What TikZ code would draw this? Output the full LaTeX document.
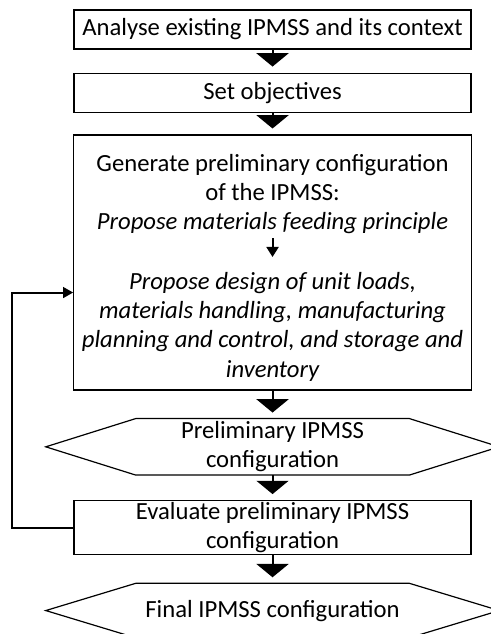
\documentclass[tikz,border=0pt]{standalone}
\usepackage{fontspec}
\setmainfont{Carlito}
\usepackage{tikz}
\usetikzlibrary{arrows.meta, positioning, fit}

\begin{document}
\begin{tikzpicture}[
        node distance=1.0cm,
        >=Latex,
        font=\fontsize{18.5}{22}\selectfont,
        block/.style={
            rectangle,
            draw,
            line width=0.9pt,
            minimum width=297.75pt,
            minimum height=29.25pt,
            inner sep=0pt,
            align=center
        },
        txt/.style={
            inner sep=0pt,
            minimum width=297.75pt,
            align=center
        },
        hexa/.style={
            inner sep=0pt,
            minimum width=204.75pt,
            align=center
        },
        bigarrow/.style={
            line width=1.5pt,
            -{Triangle[width=24pt,length=10pt]},
            shorten >=4.5pt
        },
        smallarrow/.style={
            line width=1.5pt,
            -{Triangle[width=9pt,length=7.5pt]}
        }
    ]

    \useasboundingbox (0,0) rectangle (367.5pt,-475.5pt);

    % Nodes
    \node[block] (analyse) at (204.4pt,-22.1pt) {Analyse existing IPMSS and its context};
    \node[block, below=17.25pt of analyse] (objectives) {Set objectives};
    \node[txt, below=30.75pt of objectives] (gen top) {Generate preliminary configuration\\of the IPMSS:\\\textit{Propose materials feeding principle}};
    \node[txt, font=\fontsize{18.5}{22}\selectfont\itshape, below=28pt of gen top] (gen bottom) {Propose design of unit loads,\\materials handling, manufacturing\\planning and control, and storage and\\inventory};
    \coordinate[above=7.5pt of gen top.north] (gen cap);
    \node[block, inner ysep=6.5pt, fit=(gen cap)(gen top)(gen bottom)] (generate) {};
    \node[hexa, minimum height=42pt, below=21pt of generate] (prelim) {Preliminary IPMSS\\configuration};
    \node[block, minimum height=40.5pt, below=18.75pt of prelim] (evaluate) {Evaluate preliminary IPMSS\\configuration};
    \node[hexa, minimum height=40.5pt, below=21pt of evaluate] (final) {Final IPMSS configuration};
    \coordinate[left=45.75pt of evaluate.west] (loop);

    % Hexagons
    \foreach \n in {prelim, final}
        \draw[line width=0.9pt] (\n.north west) -- (\n.north east) -- ([xshift=67.5pt]\n.east) -- (\n.south east)
            -- (\n.south west) -- ([xshift=-67.5pt]\n.west) -- cycle;

    % Arrows
    \draw[bigarrow] (analyse) -- (objectives);
    \draw[bigarrow] (objectives) -- (generate);
    \draw[smallarrow, shorten <=3pt, shorten >=11pt] (gen top) -- (gen bottom);
    \draw[bigarrow] (generate) -- (prelim);
    \draw[bigarrow] (prelim) -- (evaluate);
    \draw[bigarrow] (evaluate) -- (final);
    \draw[line width=1.5pt, -{Triangle[width=8pt,length=7.5pt]}] (evaluate.west) -- (loop) |- ([yshift=-22.5pt]generate.west);

\end{tikzpicture}
\end{document}
